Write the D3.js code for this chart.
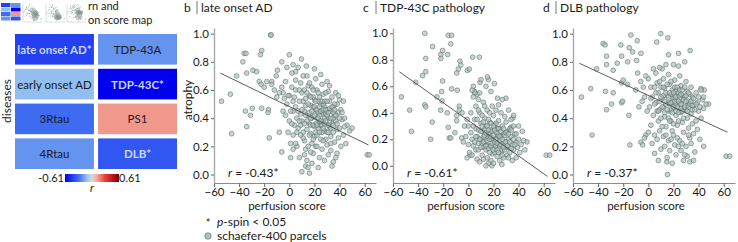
<!DOCTYPE html>
<html>
<head>
<meta charset="utf-8">
<script src="https://cdn.jsdelivr.net/npm/d3@7"></script>
<style>
  body { margin: 0; background: #fff; }
  svg text { font-family: "Lato", "Open Sans", sans-serif; fill: #1a1a1a; }
</style>
</head>
<body>
<div id="plot"></div>
<script>
// heatmap: disease correlations with perfusion score
var diseases = ["late onset AD*", "TDP-43A", "early onset AD", "TDP-43C*", "3Rtau", "PS1", "4Rtau", "DLB*"];
var diseaseR = [-0.43, -0.22, -0.12, -0.61, -0.31, 0.14, -0.22, -0.37];
var significant = [true, false, false, true, false, false, false, true];

var panelTitles = ["late onset AD", "TDP-43C pathology", "DLB pathology"];
var panelLetters = ["b", "c", "d"];
var panelR = ["-0.43*", "-0.61*", "-0.37*"];
var xTicks = [-60, -40, -20, 0, 20, 40, 60];
var yTicks = [0, 0.2, 0.4, 0.6, 0.8, 1.0];

// regression line end points [x, y]
var fitB = [[-55, 0.72], [63, 0.21]];
var fitC = [[-55, 0.71], [63, -0.08]];
var fitD = [[-55, 0.79], [63, 0.30]];

// parcels: [perfusion score, atrophy]
var parcelsB = [
  [-15,0.99],[-14.5,0.99],[-36,0.86],[-34.5,0.86],[-37,0.80],[-22,0.88],[-23,0.85],[-29,0.74],[-26,0.73],
  [-34,0.72],[-42,0.70],[-54,0.52],[-47,0.57],[-29.5,0.47],[-35,0.45],[-31,0.42],[-34,0.34],[-46,0.29],
  [-22,0.47],[-16,0.26],[-16.7,0.46],[-17,0.44],[-8,0.30],[-6,0.16],[62,0.14],[63.6,0.14],[0,0.85],
  [-6,0.80],[-24,0.66],[-22.5,0.64],[-18,0.66],[-14,0.66],[-10.5,0.70],[-9.5,0.74],[-2,0.76],[3,0.78],
  [5,0.73],[13.5,0.77],[9.6,0.82],[-20,0.62],[-12,0.60],[-5,0.58],[-14,0.64],[0,0.56],[-3,0.66],
  [2,0.62],[4,0.55],[5,0.48],[6,0.40],[7,0.33],[3,0.28],[1,0.22],[6,0.20],[8,0.12],[9,0.65],[10,0.58],
  [11,0.52],[12,0.45],[10,0.38],[11,0.30],[12,0.24],[13,0.18],[14,0.10],[13,0.06],[15,0.05],[16,0.01],
  [14,0.70],[15,0.63],[16,0.56],[17,0.49],[15,0.42],[16,0.36],[17,0.29],[18,0.22],[19,0.15],[18,0.08],
  [20,0.75],[21,0.68],[22,0.60],[20,0.53],[21,0.46],[22,0.40],[23,0.33],[20,0.27],[21,0.20],[24,0.12],
  [23,0.05],[25,0.71],[26,0.64],[27,0.57],[25,0.50],[26,0.44],[27,0.38],[28,0.31],[25,0.25],[26,0.18],
  [28,0.10],[30,0.66],[31,0.59],[32,0.52],[30,0.46],[31,0.40],[32,0.34],[33,0.27],[30,0.21],[31,0.14],
  [34,0.55],[35,0.48],[36,0.42],[34,0.36],[35,0.30],[36,0.23],[37,0.58],[38,0.50],[39,0.44],[37,0.38],
  [38,0.32],[39,0.26],[40,0.53],[41,0.46],[42,0.39],[40,0.33],[44,0.40],[46,0.35],[43,0.28],[45,0.22],
  [48,0.31],[50,0.33],[35,0.09],[37,0.12],[33,0.17],[29,0.25],[24,0.37],[19,0.41],[13,0.49],[8,0.52],
  [3,0.45],[0,0.38],[-2,0.50],[-1,0.56],[2,0.72],[5,0.67],[7,0.76],[18,0.62],[24,0.55],[28,0.48],
  [17,0.35],[22,0.28],[27,0.43],[33,0.45],[12,0.60],[9,0.43],[14,0.32],[19,0.48],[23,0.52],[29,0.58],
  [26,0.30],[31,0.35],[36,0.50],[16,0.44],[21,0.36],[11,0.26],[6,0.30],[4,0.35],[-3,0.42],[-4,0.54],
  [-6,0.62],[-8,0.58],[-10,0.55],[-5,0.45],[1,0.12],[3,0.18],[10,0.02],[12,0.14],[17,0.16],[32,0.63],
  [39,0.56],[43,0.52],[41,0.20],[38,0.15],[34,0.06],[18,0.40],[23,0.44],[28,0.40],[14,0.38],[20,0.34],
  [25,0.35],[30,0.30],[19,0.55],[27,0.50],[9,0.35],[24,0.42],[29,0.43],[13,0.54],[32,0.38],[35,0.40],
  [1,0.45],[3,0.52],[5,0.60],[7,0.45],[8,0.38],[9,0.28],[10,0.46],[12,0.36],[13,0.42],[14,0.58],
  [15,0.50],[16,0.28],[17,0.40],[17,0.55],[18,0.45],[19,0.35],[19,0.60],[20,0.42],[20,0.48],[21,0.52],
  [21,0.30],[22,0.46],[22,0.35],[23,0.40],[23,0.58],[24,0.48],[24,0.30],[25,0.45],[25,0.38],[26,0.52],
  [26,0.35],[27,0.46],[27,0.33],[28,0.52],[28,0.36],[29,0.46],[29,0.38],[30,0.42],[30,0.52],[31,0.44],
  [31,0.30],[32,0.47],[33,0.40],[33,0.33],[34,0.48],[35,0.44],[35,0.35],[36,0.46],[37,0.42],[38,0.36],
  [40,0.40],[42,0.44],[44,0.34],[16,0.65],[11,0.70],[8,0.60],[5,0.22],[2,0.36],[-1,0.30],[22,0.20],
  [27,0.24],[33,0.22],[15,0.20],[19,0.25]
];

var parcelsC = [
  [-34.7,1.0],[-16,0.985],[-13.3,0.985],[-28.5,0.90],[-14,0.92],[-21.9,0.84],[-21.9,0.81],[-20.5,0.87],
  [-33.9,0.81],[-16.5,0.84],[-6.7,0.79],[-6,0.76],[3.5,0.82],[8.8,0.82],[-8,0.73],[-9.3,0.70],[-0.8,0.72],
  [0.8,0.73],[-33.9,0.71],[-36.5,0.68],[-20.5,0.64],[-53.3,0.52],[-41.9,0.63],[-25,0.52],[-21.3,0.56],
  [-21,0.49],[-13.3,0.58],[-8.8,0.57],[-34.7,0.46],[-33.9,0.445],[-46.7,0.42],[-45.3,0.26],[-30,0.20],
  [-28.8,0.33],[-22,0.42],[-16.8,0.40],[-16,0.29],[-15.2,0.21],[-14,0.21],[-9.3,0.38],[-9.3,0.34],
  [-7.2,0.45],[-7.2,0.42],[-10.7,0.25],[-5.3,0.21],[16,0.65],[15.2,0.67],[20.8,0.62],[9.3,0.63],
  [23.2,0.51],[30,0.51],[35.5,0.36],[33.9,0.29],[46.7,0.18],[62,0.08],[64.8,0.08],[18.7,0.0],[26.7,0.01],
  [1.3,0.08],[5,0.56],[7,0.54],[4,0.60],
  [0,0.30],[2,0.25],[3,0.20],[4,0.15],[1,0.10],[5,0.35],[6,0.28],[7,0.22],[8,0.17],[6,0.12],[7,0.05],
  [9,0.40],[10,0.32],[11,0.26],[10,0.20],[12,0.14],[11,0.08],[13,0.36],[14,0.30],[15,0.24],[13,0.18],
  [14,0.12],[15,0.06],[16,0.02],[17,0.33],[18,0.27],[16,0.21],[17,0.15],[19,0.09],[18,0.04],[20,0.38],
  [21,0.31],[22,0.25],[20,0.19],[21,0.13],[23,0.07],[24,0.34],[25,0.28],[23,0.22],[24,0.16],[26,0.10],
  [25,0.04],[27,0.30],[28,0.24],[29,0.18],[27,0.12],[28,0.06],[30,0.33],[31,0.26],[32,0.20],[30,0.14],
  [31,0.08],[33,0.28],[34,0.22],[35,0.16],[33,0.10],[36,0.30],[37,0.24],[38,0.18],[36,0.12],[39,0.14],
  [40,0.20],[42,0.16],[44,0.19],[41,0.10],[38,0.06],[45,0.12],[35,0.04],[22,0.42],[19,0.45],[12,0.48],
  [8,0.50],[5,0.55],[3,0.57],[6,0.45],[2,0.40],[-1,0.35],[-3,0.30],[-2,0.22],[-4,0.18],[-5,0.40],
  [4,0.52],[9,0.55],[15,0.42],[26,0.40],[29,0.37],[32,0.42],[16,0.35],[11,0.38],[24,0.46],[3,0.08],
  [0,0.16],[-1,0.06],[9,0.03],[14,0.00],[20,0.02],[27,0.50],[36,0.38],[40,0.30],[43,0.26],[34,0.35],
  [18,0.56],[14,0.60],[10,0.65],[12,0.22],[19,0.20],[22,0.15],[26,0.22],[17,0.24],[23,0.28],[29,0.12],
  [8,0.27],[15,0.15],[21,0.10],[32,0.14],[11,0.17],[25,0.19],[18,0.32],[13,0.27],
  [5,0.18],[6,0.22],[8,0.12],[9,0.20],[10,0.26],[10,0.14],[11,0.30],[12,0.18],[12,0.33],[13,0.23],
  [14,0.15],[14,0.25],[15,0.19],[15,0.30],[16,0.13],[16,0.27],[17,0.20],[17,0.10],[18,0.22],[18,0.15],
  [19,0.26],[19,0.17],[20,0.23],[20,0.12],[21,0.27],[21,0.18],[22,0.20],[22,0.32],[23,0.17],[23,0.12],
  [24,0.23],[24,0.28],[25,0.15],[25,0.22],[26,0.26],[26,0.16],[27,0.20],[28,0.28],[28,0.14],[29,0.23],
  [30,0.18],[30,0.25],[31,0.15],[32,0.24],[33,0.18],[34,0.13],[34,0.27],[36,0.20],[37,0.16],[38,0.24],
  [7,0.35],[4,0.30],[8,0.42],[13,0.45],[17,0.40],[20,0.30],[24,0.10],[27,0.08],[32,0.06],[12,0.05]
];

var parcelsD = [
  [-13.9,0.99],[9.9,1.0],[15.5,0.97],[6.7,0.94],[-36,0.93],[-34.4,0.92],[-21.9,0.92],[-15.2,0.90],
  [-8.8,0.95],[-33.3,0.84],[-21.3,0.84],[-12.5,0.87],[-5.9,0.86],[16,0.85],[24,0.86],[33.3,0.88],
  [-41.3,0.75],[-28,0.74],[-33.3,0.78],[-24.8,0.79],[-16.5,0.80],[-9.3,0.81],[-8.5,0.72],[-53.3,0.55],
  [-45.9,0.61],[-34.1,0.59],[-21.3,0.65],[-20,0.67],[-16.5,0.64],[-28,0.58],[-21.3,0.51],[-20.5,0.52],
  [-33.3,0.46],[-29.3,0.50],[-15.5,0.42],[-44.8,0.28],[-14.7,0.21],[-5.9,0.23],[-4.5,0.21],[-7.5,0.48],
  [62,0.13],[64.8,0.13],[14.7,0.09],[15.2,0.0],[48,0.50],[44.5,0.60],[41.9,0.61],[44,0.20],
  [0,0.68],[2,0.62],[3,0.55],[1,0.48],[4,0.42],[2,0.35],[5,0.28],[3,0.22],[6,0.72],[7,0.65],[8,0.58],
  [6,0.51],[7,0.45],[8,0.38],[9,0.31],[7,0.25],[10,0.18],[11,0.75],[12,0.68],[13,0.61],[11,0.54],
  [12,0.48],[13,0.41],[14,0.34],[12,0.27],[13,0.20],[15,0.12],[16,0.71],[17,0.64],[18,0.57],[16,0.51],
  [17,0.45],[18,0.38],[19,0.31],[16,0.24],[17,0.17],[20,0.78],[21,0.67],[22,0.60],[20,0.54],[21,0.48],
  [22,0.42],[23,0.35],[20,0.28],[21,0.21],[22,0.14],[25,0.70],[26,0.63],[27,0.56],[25,0.50],[26,0.44],
  [27,0.37],[28,0.30],[25,0.24],[26,0.17],[28,0.10],[30,0.66],[31,0.59],[32,0.52],[30,0.46],[31,0.40],
  [32,0.33],[33,0.26],[30,0.20],[31,0.13],[34,0.62],[35,0.55],[36,0.49],[34,0.43],[35,0.36],[36,0.29],
  [34,0.22],[37,0.16],[38,0.58],[39,0.51],[40,0.45],[38,0.38],[39,0.32],[41,0.25],[42,0.60],[43,0.53],
  [44,0.47],[42,0.40],[46,0.50],[44,0.55],[29,0.80],[24,0.77],[14,0.78],[9,0.76],[4,0.75],[-2,0.70],
  [-4,0.62],[-3,0.55],[-1,0.45],[-5,0.52],[-2,0.28],[-3,0.26],[0,0.30],[5,0.15],[8,0.10],[19,0.08],
  [24,0.20],[29,0.14],[33,0.09],[36,0.10],[23,0.53],[18,0.46],[28,0.47],[15,0.56],[10,0.62],[33,0.57],
  [24,0.38],[19,0.60],[14,0.50],[22,0.50],[27,0.52],[19,0.52],[29,0.55],[16,0.40],[24,0.58],[31,0.49],
  [12,0.56],[26,0.47],[21,0.56],[17,0.50],[35,0.46],[9,0.46],[5,0.62],[2,0.54],[-6,0.66],[-10,0.60],
  [5,0.50],[6,0.58],[8,0.45],[9,0.52],[9,0.66],[10,0.40],[10,0.55],[11,0.48],[12,0.62],[13,0.52],
  [13,0.44],[14,0.58],[15,0.46],[15,0.64],[16,0.55],[17,0.58],[17,0.38],[18,0.51],[18,0.66],[19,0.44],
  [20,0.58],[20,0.48],[21,0.52],[21,0.62],[22,0.45],[22,0.55],[23,0.48],[23,0.62],[24,0.52],[24,0.44],
  [25,0.56],[25,0.60],[26,0.50],[26,0.57],[27,0.45],[27,0.60],[28,0.53],[28,0.40],[29,0.48],[29,0.62],
  [30,0.52],[30,0.56],[31,0.45],[32,0.48],[32,0.58],[33,0.50],[34,0.52],[35,0.49],[36,0.54],[37,0.46],
  [38,0.50],[40,0.55],[41,0.48],[14,0.28],[18,0.25],[23,0.26],[27,0.22],[11,0.34],[32,0.28],[20,0.36]
];

var panelData = [parcelsB, parcelsC, parcelsD];
var panelFits = [fitB, fitC, fitD];
var panelYDomains = [[-0.06, 1.04], [-0.13, 1.04], [-0.06, 1.04]];
var panelX0 = [214, 393, 573];

var width = 738, height = 242;
var svg = d3.select("#plot").append("svg")
  .attr("width", width).attr("height", height);

var dotFill = "#b0c2be", dotStroke = "#4f635e";

// colour scale of the heatmap
var rColor = d3.scaleLinear()
  .domain([-0.61, -0.3, -0.1, 0, 0.1, 0.3, 0.61])
  .range(["#0000ee", "#4070f0", "#9cc8f0", "#d8d8dc", "#f0b0a0", "#ee3a3a", "#800000"]);

// ---- thumbnail in the top left corner
var thumb = svg.append("g").attr("transform", "translate(1,3)");
diseases.forEach(function (d, i) {
  thumb.append("rect")
    .attr("x", (i % 2) * 10).attr("y", Math.floor(i / 2) * 4.5)
    .attr("width", 9.5).attr("height", 4)
    .attr("fill", rColor(diseaseR[i]));
});
[22, 45, 66].forEach(function (tx, p) {
  var mx = d3.scaleLinear().domain([-60, 69]).range([tx, tx + 19]);
  var my = d3.scaleLinear().domain(panelYDomains[p]).range([19, 1]);
  thumb.append("path")
    .attr("d", "M" + tx + ",1V19H" + (tx + 19))
    .attr("fill", "none").attr("stroke", "#bbb").attr("stroke-width", 0.5);
  thumb.selectAll(null).data(panelData[p]).enter().append("circle")
    .attr("cx", function (d) { return mx(d[0]); })
    .attr("cy", function (d) { return my(d[1]); })
    .attr("r", 0.45).attr("fill", "#8a9692");
});
svg.append("text").attr("x", 88).attr("y", 10).style("font-size", "11px").text("rn and");
svg.append("text").attr("x", 88).attr("y", 23.5).style("font-size", "11px").text("on score map");

// ---- heatmap
var cellX = d3.scaleBand().domain([0, 1]).range([15, 177]).paddingInner(0.05).paddingOuter(0);
var cellY = d3.scaleBand().domain([0, 1, 2, 3]).range([34, 169]).paddingInner(0.12).paddingOuter(0);

var cells = svg.selectAll("g.cell").data(diseases).enter().append("g").attr("class", "cell");
cells.append("rect")
  .attr("x", function (d, i) { return cellX(i % 2); })
  .attr("y", function (d, i) { return cellY(Math.floor(i / 2)); })
  .attr("width", cellX.bandwidth())
  .attr("height", cellY.bandwidth())
  .attr("fill", function (d, i) { return rColor(diseaseR[i]); });
cells.append("text")
  .attr("x", function (d, i) { return cellX(i % 2) + cellX.bandwidth() / 2; })
  .attr("y", function (d, i) { return cellY(Math.floor(i / 2)) + cellY.bandwidth() / 2 + 4.5; })
  .attr("text-anchor", "middle")
  .style("font-size", "11.5px")
  .style("font-weight", function (d, i) { return significant[i] ? "bold" : "normal"; })
  .style("fill", function (d, i) { return significant[i] ? "#c9d6ff" : "#1a1a1a"; })
  .text(function (d) { return d; });

svg.append("text")
  .attr("transform", "translate(11,101) rotate(-90)")
  .attr("text-anchor", "middle").style("font-size", "12px")
  .text("diseases");

// colour bar
var defs = svg.append("defs");
var grad = defs.append("linearGradient").attr("id", "rgrad");
rColor.domain().forEach(function (v) {
  grad.append("stop")
    .attr("offset", ((v + 0.61) / 1.22 * 100) + "%")
    .attr("stop-color", rColor(v));
});
svg.append("rect").attr("x", 65).attr("y", 174).attr("width", 54).attr("height", 8)
  .attr("fill", "url(#rgrad)");
svg.append("text").attr("x", 64).attr("y", 182).attr("text-anchor", "end")
  .style("font-size", "11px").text("-0.61");
svg.append("text").attr("x", 119).attr("y", 182)
  .style("font-size", "11px").text("0.61");
svg.append("text").attr("x", 92).attr("y", 192).attr("text-anchor", "middle")
  .style("font-size", "11px").style("font-style", "italic").text("r");

// ---- scatter panels
panelData.forEach(function (data, p) {
  var x0 = panelX0[p];
  var x = d3.scaleLinear().domain([-60, 69]).range([x0, x0 + 162]);
  var y = d3.scaleLinear().domain(panelYDomains[p]).range([183, 28]);
  var g = svg.append("g");

  // title
  g.append("text").attr("x", x0 - 30).attr("y", 12).style("font-size", "12px").text(panelLetters[p]);
  g.append("line").attr("x1", x0 - 17).attr("x2", x0 - 17).attr("y1", 1).attr("y2", 14)
    .attr("stroke", "#777").attr("stroke-width", 1);
  g.append("text").attr("x", x0 - 13).attr("y", 12).style("font-size", "12px").text(panelTitles[p]);

  var xAxis = g.append("g")
    .attr("transform", "translate(0,183)")
    .call(d3.axisBottom(x).tickValues(xTicks).tickSize(4).tickPadding(1).tickSizeOuter(0));
  var yAxis = g.append("g")
    .attr("transform", "translate(" + x0 + ",0)")
    .call(d3.axisLeft(y).tickValues(yTicks).tickSize(3).tickPadding(2).tickSizeOuter(0)
      .tickFormat(d3.format(".1f")));
  [xAxis, yAxis].forEach(function (a) {
    a.select(".domain").attr("stroke", "#8c8c8c");
    a.selectAll(".tick line").attr("stroke", "#666");
    a.selectAll(".tick text").style("font-size", "11.5px").attr("fill", "#1a1a1a")
      .style("font-family", "Lato, sans-serif");
  });
  yAxis.select(".domain").attr("stroke-width", 1.4).attr("stroke", "#a8a8a8");

  g.selectAll("circle").data(data).enter().append("circle")
    .attr("cx", function (d) { return x(d[0]); })
    .attr("cy", function (d) { return y(d[1]); })
    .attr("r", 2.4)
    .attr("fill", dotFill).attr("fill-opacity", 0.7)
    .attr("stroke", dotStroke).attr("stroke-width", 0.6).attr("stroke-opacity", 0.85);

  var fit = panelFits[p];
  g.append("line")
    .attr("x1", x(fit[0][0])).attr("y1", y(fit[0][1]))
    .attr("x2", x(fit[1][0])).attr("y2", y(fit[1][1]))
    .attr("stroke", "#4a4a4a").attr("stroke-width", 0.9);

  var rt = g.append("text").attr("x", x0 + 14).attr("y", 177).style("font-size", "12px");
  rt.append("tspan").style("font-style", "italic").text("r");
  rt.append("tspan").text(" = " + panelR[p]);

  g.append("text").attr("x", x0 + 73).attr("y", 210).attr("text-anchor", "middle")
    .style("font-size", "11.5px").text("perfusion score");
});

svg.append("text")
  .attr("transform", "translate(192,100) rotate(-90)")
  .attr("text-anchor", "middle").style("font-size", "12px")
  .text("atrophy");

// legend
svg.append("text").attr("x", 208).attr("y", 227).attr("text-anchor", "middle")
  .style("font-size", "11px").text("*");
var lt = svg.append("text").attr("x", 217).attr("y", 226).style("font-size", "12px");
lt.append("tspan").style("font-style", "italic").text("p");
lt.append("tspan").text("-spin < 0.05");
svg.append("circle").attr("cx", 208).attr("cy", 236).attr("r", 3.2)
  .attr("fill", dotFill).attr("stroke", dotStroke).attr("stroke-width", 0.6);
svg.append("text").attr("x", 217).attr("y", 240).style("font-size", "12px").text("schaefer-400 parcels");
</script>
</body>
</html>
